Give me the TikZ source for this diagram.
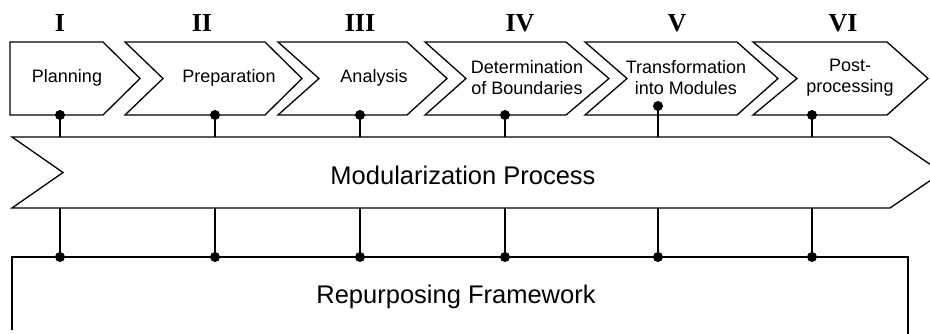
\documentclass[tikz,border=0pt]{standalone}
\usepackage{fontspec}
\setmainfont{Liberation Sans}
\newfontfamily\numfont{Liberation Serif}
\begin{document}
\begin{tikzpicture}[x=1pt,y=-1pt,
  shapeline/.style={draw=black,line width=1.3pt,line join=miter},
  steplabel/.style={font=\fontsize{18}{21}\selectfont,align=center,inner sep=0pt},
  numlabel/.style={font=\numfont\bfseries\fontsize{26}{26}\selectfont,inner sep=0pt},
  biglabel/.style={font=\fontsize{25.5}{30}\selectfont,inner sep=0pt},
  link/.style={draw=black,line width=1.4pt},
  dotnode/.style={circle,fill=black,inner sep=0pt,minimum size=10pt}]
\useasboundingbox (0,0) rectangle (930,334);

% phase chevrons
\draw[shapeline] (10,42) -- (103,42) -- (140,78.5) -- (103,115) -- (10,115) -- cycle;
\draw[shapeline] (125,42) -- (265,42) -- (302,78.5) -- (265,115) -- (125,115) -- (163,78.5) -- cycle;
\draw[shapeline] (278,42) -- (407,42) -- (447,78.5) -- (407,115) -- (278,115) -- (319,78.5) -- cycle;
\draw[shapeline] (425,42) -- (566,42) -- (609,78.5) -- (566,115) -- (425,115) -- (466,78.5) -- cycle;
\draw[shapeline] (585,42) -- (737,42) -- (778,78.5) -- (737,115) -- (585,115) -- (627,78.5) -- cycle;
\draw[shapeline] (753,42) -- (887,42) -- (928,78.5) -- (887,115) -- (753,115) -- (797,78.5) -- cycle;

% roman numerals
\node[numlabel] (n1) at (60,23) {I};
\node[numlabel] (n2) at (202,23) {II};
\node[numlabel] (n3) at (360,23) {III};
\node[numlabel] (n4) at (520,23) {IV};
\node[numlabel] (n5) at (677,23) {V};
\node[numlabel] (n6) at (843,23) {VI};

% phase labels
\node[steplabel] (s1) at (67,78) {Planning};
\node[steplabel] (s2) at (229,78) {Preparation};
\node[steplabel] (s3) at (374,78) {Analysis};
\node[steplabel] (s4) at (527,78) {Determination\\of Boundaries};
\node[steplabel] (s5) at (686,78) {Transformation\\into Modules};
\node[steplabel] (s6) at (850,78) {Post-\\processing};

% modularization process band
\begin{scope}
\clip (0,0) rectangle (930,334);
\draw[shapeline] (12,137) -- (890,137) -- (942,172.5) -- (890,208) -- (12,208) -- (63,172.5) -- cycle;
\end{scope}
\node[biglabel] (mp) at (463,175) {Modularization Process};

% repurposing framework box (open at the bottom)
\draw[shapeline] (12,330) -- (12,257) -- (908,257) -- (908,334);
\node[biglabel] (rf) at (456,297) {Repurposing Framework};

% connectors
\foreach \i/\x/\ty in {1/60/115,2/215/115,3/360/115,4/505/115,5/658/106,6/812/115}{
  \coordinate (top\i) at (\x,\ty);
  \coordinate (bandtop\i) at (\x,137);
  \coordinate (bandbot\i) at (\x,208);
  \coordinate (base\i) at (\x,257);
  \draw[link] (top\i) -- (bandtop\i);
  \draw[link] (bandbot\i) -- (base\i);
  \node[dotnode] (dt\i) at (top\i) {};
  \node[dotnode] (db\i) at (base\i) {};
}
\end{tikzpicture}
\end{document}
